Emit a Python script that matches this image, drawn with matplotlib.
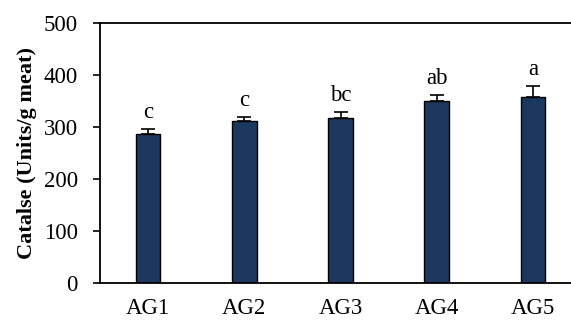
import matplotlib.pyplot as plt
import numpy as np

plt.rcParams['font.family'] = 'Liberation Serif'

# Catalase activity per group
groups = ['AG1', 'AG2', 'AG3', 'AG4', 'AG5']
catalase = [287, 311, 317, 350, 358]
sem = [10, 9, 12, 12, 21]
letters = ['c', 'c', 'bc', 'ab', 'a']

fig = plt.figure(figsize=(5.71, 3.2), dpi=100)
ax = fig.add_axes([100 / 571, 37 / 320, 481 / 571, 260 / 320])

x = np.arange(len(groups))
ax.bar(x, catalase, width=0.256, color='#1B375E', edgecolor='black', linewidth=1,
       yerr=[np.zeros(len(sem)), sem], capsize=5,
       error_kw=dict(elinewidth=1.2, capthick=1.2, ecolor='black'))

# significance letters above the error bars
for xi, v, e, lab in zip(x, catalase, sem, letters):
    ax.annotate(lab, (xi, v + e), xytext=(0, 4), textcoords='offset points',
                ha='center', va='bottom', fontsize=16.5)

ax.set_xlim(-0.5, 4.5)
ax.set_ylim(0, 500)
ax.set_yticks(range(0, 501, 100))
ax.set_xticks(x, groups)
ax.tick_params(axis='x', length=0, labelsize=16.5, pad=11)
ax.tick_params(axis='y', length=5, width=1.2, labelsize=16.5, pad=11)
ax.spines['right'].set_visible(False)
for s in ['left', 'bottom', 'top']:
    ax.spines[s].set_linewidth(1.3)
ax.set_ylabel('Catalse (Units/g meat)', fontsize=16, fontweight='bold', labelpad=5)

plt.savefig('out.png', dpi=100)
